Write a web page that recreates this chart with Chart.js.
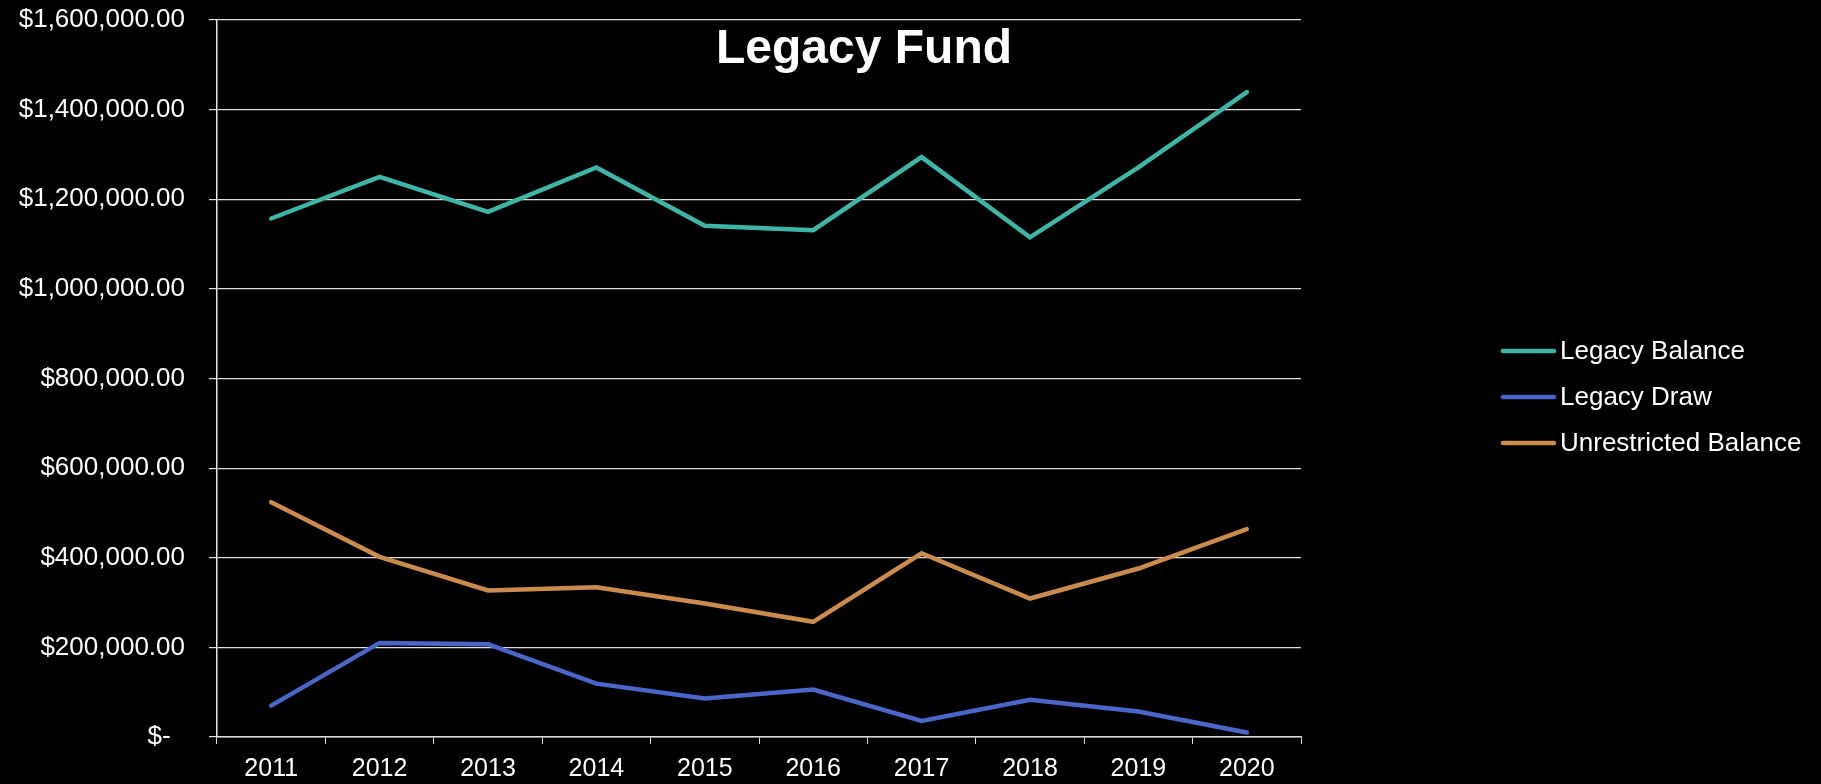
<!DOCTYPE html>
<html>
<head>
<meta charset="utf-8">
<script src="https://cdn.jsdelivr.net/npm/chart.js"></script>
<style>
  html, body { margin: 0; padding: 0; background: #000; }
  .chart-container { width: 1821px; height: 784px; }
</style>
</head>
<body>
<div class="chart-container"><canvas id="legacyChart"></canvas></div>
<script>
const years = ["2011", "2012", "2013", "2014", "2015", "2016", "2017", "2018", "2019", "2020"];
const legacyBalance = [1157000, 1250000, 1172000, 1271000, 1141000, 1131000, 1294000, 1115000, 1271000, 1439000];
const legacyDraw = [70000, 210000, 207000, 119000, 86000, 106000, 36000, 83000, 57000, 10000];
const unrestrictedBalance = [524000, 402000, 327000, 334000, 298000, 257000, 410000, 309000, 376000, 464000];
const seriesNames = ["Legacy Balance", "Legacy Draw", "Unrestricted Balance"];
const seriesColors = ["#3db6a7", "#4a66c9", "#cb8b4c"];

const fmtMoney = (v) => {
    if (v === 0) return "$-  ";
    return "$" + v.toLocaleString("en-US", { minimumFractionDigits: 2, maximumFractionDigits: 2 });
};

// title + legend drawn by hand so they sit where the original has them
const overlay = {
    id: "overlay",
    afterDraw(chart) {
        const ctx = chart.ctx;
        ctx.save();
        ctx.fillStyle = "#ffffff";
        ctx.font = "bold 48px 'Liberation Sans', Arial, sans-serif";
        ctx.textAlign = "center";
        ctx.textBaseline = "alphabetic";
        ctx.fillText("Legacy Fund", 864, 63);

        ctx.font = "26px 'Liberation Sans', Arial, sans-serif";
        ctx.textAlign = "left";
        ctx.textBaseline = "middle";
        chart.data.datasets.forEach((ds, i) => {
            const y = 351 + i * 46;
            ctx.strokeStyle = ds.borderColor;
            ctx.lineWidth = 4.5;
            ctx.lineCap = "round";
            ctx.beginPath();
            ctx.moveTo(1503, y);
            ctx.lineTo(1554, y);
            ctx.stroke();
            ctx.fillText(ds.label, 1560, y + 1);
        });
        ctx.restore();
    }
};

const ctx = document.getElementById("legacyChart").getContext("2d");
const lineData = [legacyBalance, legacyDraw, unrestrictedBalance];

window.legacyChart = new Chart(ctx, {
    type: "line",
    data: {
        labels: years,
        datasets: seriesNames.map((name, i) => ({
            label: name,
            data: lineData[i],
            borderColor: seriesColors[i],
            backgroundColor: seriesColors[i],
            borderWidth: 4.5,
            pointRadius: 0,
            tension: 0,
            borderCapStyle: "round",
            borderJoinStyle: "miter",
        })),
    },
    options: {
        responsive: true,
        maintainAspectRatio: false,
        animation: false,
        layout: {
            padding: { top: 20, right: 520, bottom: 0, left: 0 },
        },
        scales: {
            x: {
                offset: true,
                afterFit: (scale) => { scale.height = 47; },
                grid: {
                    offset: true,
                    drawOnChartArea: false,
                    drawTicks: true,
                    tickLength: 7,
                    color: "#d9d9d9",
                },
                border: { color: "#d9d9d9", width: 1.5 },
                ticks: {
                    color: "#ffffff",
                    padding: 10,
                    font: { family: "'Liberation Sans', Arial, sans-serif", size: 25 },
                },
            },
            y: {
                min: 0,
                max: 1600000,
                afterFit: (scale) => {
                    scale.width = 217;
                    scale.paddingTop = 0;
                    scale.paddingBottom = 0;
                },
                grid: {
                    color: "#dedede",
                    lineWidth: 1.2,
                    tickLength: 8,
                },
                border: { color: "#e6e6e6", width: 1.5 },
                ticks: {
                    stepSize: 200000,
                    color: "#ffffff",
                    padding: 24,
                    font: { family: "'Liberation Sans', Arial, sans-serif", size: 26 },
                    callback: (v) => fmtMoney(v),
                },
            },
        },
        plugins: {
            legend: { display: false },
            title: { display: false },
            tooltip: { enabled: false },
        },
    },
    plugins: [overlay],
});
</script>
</body>
</html>
